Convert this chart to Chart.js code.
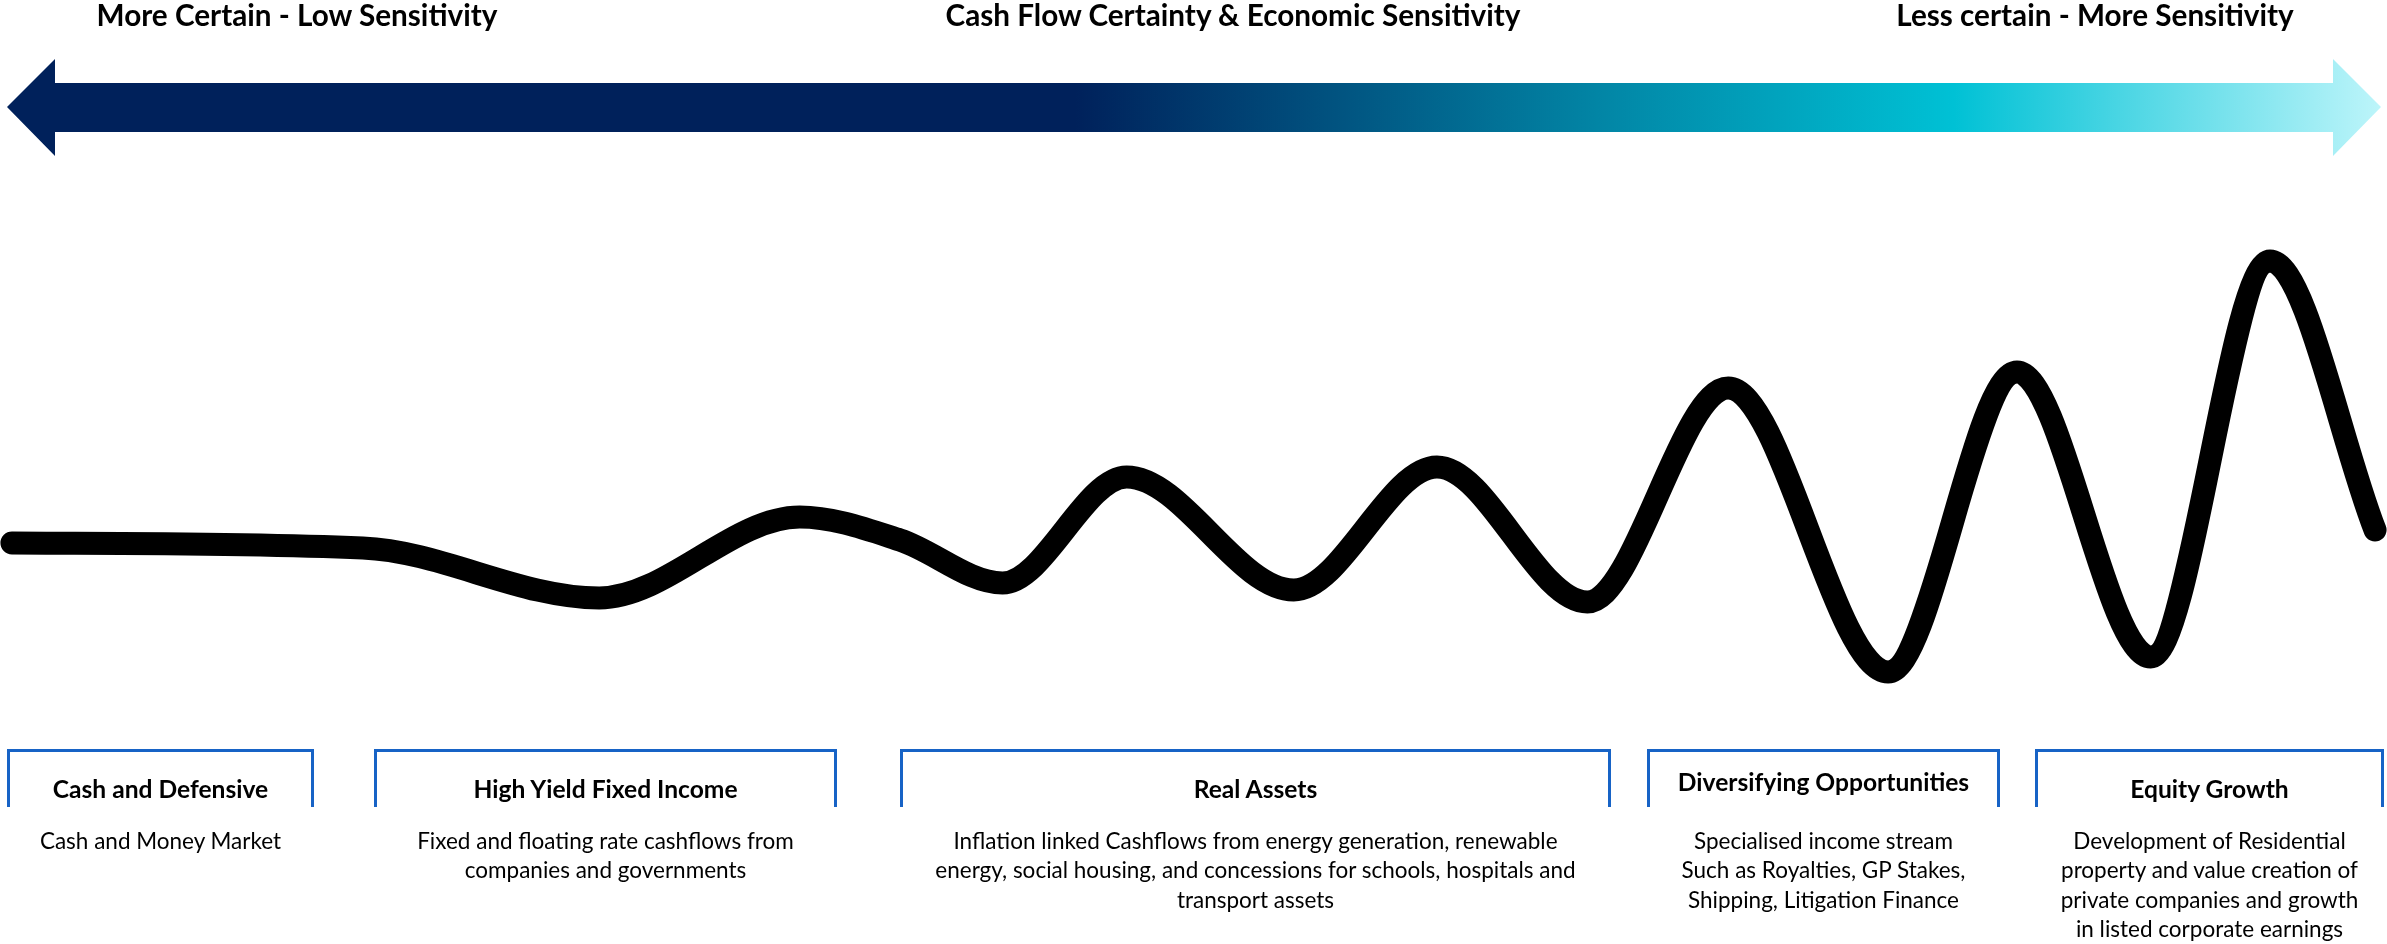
<!DOCTYPE html>
<html>
<head>
<meta charset="utf-8">
<script src="https://cdn.jsdelivr.net/npm/chart.js@4.4.1/dist/chart.umd.min.js"></script>
<style>
  html, body { margin: 0; padding: 0; background: #fff; }
  #page { position: relative; width: 2387px; height: 944px; overflow: hidden; font-family: Lato, 'Open Sans', sans-serif; color: #000; }
  #wave { position: absolute; left: 0; top: 0; }
  .heading { position: absolute; top: -3px; width: 900px; text-align: center; font-weight: 700; font-size: 29.7px; line-height: 1.2; white-space: nowrap; }
  #arrow {
    position: absolute; left: 7px; top: 59px; width: 2374px; height: 97px;
    clip-path: polygon(0px 48px, 48px 0px, 48px 24px, 2326px 24px, 2326px 0px, 2374px 48px, 2326px 97px, 2326px 73px, 48px 73px, 48px 97px);
    background: linear-gradient(to right, #00215b 0%, #00215b 45%, #0285a5 67%, #00c1d5 82%, #bdf5fa 100%);
  }
  .box { position: absolute; top: 749px; height: 55px; border: 3px solid #1763c6; border-bottom: none; box-sizing: content-box; }
  .cat { position: absolute; width: 600px; text-align: center; font-weight: 700; font-size: 24.6px; line-height: 1.2; white-space: nowrap; }
  .desc { position: absolute; top: 826px; width: 700px; text-align: center; font-size: 22.5px; line-height: 29.3px; white-space: nowrap; }
</style>
</head>
<body>
<div id="page">
  <canvas id="wave" width="2387" height="944"></canvas>
  <div id="arrow"></div>
</div>
<script>
// scale headings along the top
const headings = ['More Certain - Low Sensitivity', 'Cash Flow Certainty & Economic Sensitivity', 'Less certain - More Sensitivity'];

// asset categories and their descriptions (one entry per line)
const categories = ['Cash and Defensive', 'High Yield Fixed Income', 'Real Assets', 'Diversifying Opportunities', 'Equity Growth'];
const descriptions = [
  ['Cash and Money Market'],
  ['Fixed and floating rate cashflows from', 'companies and governments'],
  ['Inflation linked Cashflows from energy generation, renewable', 'energy, social housing, and concessions for schools, hospitals and', 'transport assets'],
  ['Specialised income stream', 'Such as Royalties, GP Stakes,', 'Shipping, Litigation Finance'],
  ['Development of Residential', 'property and value creation of', 'private companies and growth', 'in listed corporate earnings']
];

// the sensitivity wave: position along the spectrum (0-100) and swing
const positions = [0.5, 15.2, 25.1, 33.5, 37.7, 42.0, 47.2, 54.2, 60.2, 66.5, 72.4, 79.1, 84.5, 90.1, 95.1, 99.5];
const sensitivity = [0.25, -1, -13.5, 6.75, 1, -9.75, 16.75, -11.5, 19.25, -14.5, 39, -32, 43, -28.25, 70.75, 3.5];

// layout only
const headingCentres = [297, 1233, 2095];
const boxEdges = [[7, 314], [374, 837], [900, 1611], [1647, 2000], [2035, 2384]];
const titleTops = [774, 774, 774, 767, 774];

const page = document.getElementById('page');

headings.forEach((t, i) => {
  const d = document.createElement('div');
  d.className = 'heading';
  d.style.left = (headingCentres[i] - 450) + 'px';
  d.textContent = t;
  page.appendChild(d);
});

categories.forEach((name, i) => {
  const [l, r] = boxEdges[i];
  const c = (l + r) / 2;
  const box = document.createElement('div');
  box.className = 'box';
  box.style.left = l + 'px';
  box.style.width = (r - l - 6) + 'px';
  page.appendChild(box);

  const t = document.createElement('div');
  t.className = 'cat';
  t.style.left = (c - 300) + 'px';
  t.style.top = titleTops[i] + 'px';
  t.textContent = name;
  page.appendChild(t);

  const d = document.createElement('div');
  d.className = 'desc';
  d.style.left = (c - 350) + 'px';
  descriptions[i].forEach((line, j) => {
    if (j) d.appendChild(document.createElement('br'));
    d.appendChild(document.createTextNode(line));
  });
  page.appendChild(d);
});

var ctx = document.getElementById('wave').getContext('2d');
var waveChart = new Chart(ctx, {
  type: 'line',
  data: {
    datasets: [
      {
        label: 'Sensitivity',
        data: positions.map((x, i) => ({ x: x, y: sensitivity[i] })),
        borderColor: '#000',
        borderWidth: 23,
        pointRadius: 0,
        fill: false,
        cubicInterpolationMode: 'monotone',
        borderCapStyle: 'round',
        borderJoinStyle: 'round',
      },
    ],
  },
  options: {
    responsive: false,
    animation: false,
    events: [],
    layout: { padding: 0 },
    scales: {
      x: { type: 'linear', min: 0, max: 100, display: false },
      y: { min: -100, max: 136, display: false },
    },
    plugins: {
      legend: { display: false },
      tooltip: { enabled: false },
    },
  },
});
</script>
</body>
</html>
